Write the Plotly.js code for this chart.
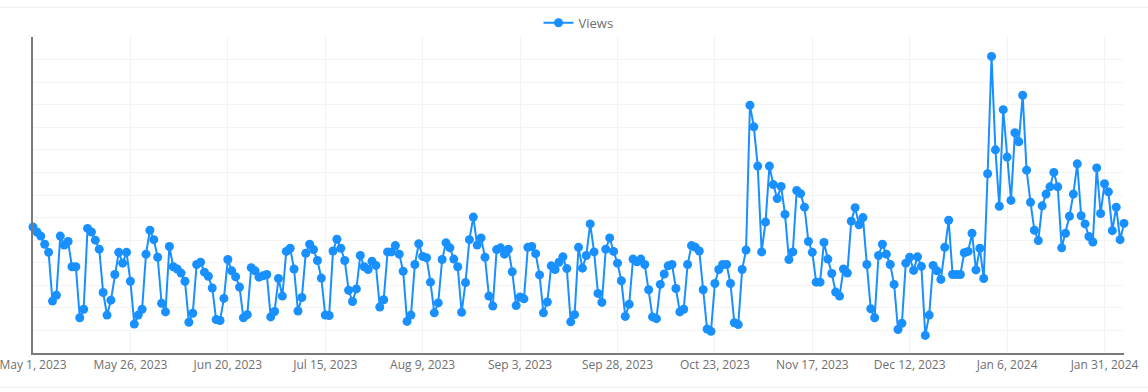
<!DOCTYPE html>
<html>
<head>
<meta charset="utf-8">
<script src="https://cdn.plot.ly/plotly-3.0.1.min.js"></script>
<style>
html,body{margin:0;padding:0;background:#fff;}
#chart{width:1148px;height:392px;}
</style>
</head>
<body>
<div id="chart"></div>
<script>
// Daily series, first day and values
const seriesName = "Views";
const startDate = "2023-05-01";
const views = [
279,268,259,241,223,115,128,259,239,247,191,191,78,97,276,268,250,230,134,84,
117,174,223,199,223,159,64,84,97,219,272,251,212,110,91,236,191,186,177,159,
68,88,196,201,179,170,144,74,72,121,207,182,169,146,78,85,189,182,168,171,
174,80,92,165,126,225,232,186,93,123,221,241,229,205,166,84,83,226,252,232,
205,139,114,142,216,191,185,203,194,102,118,224,224,238,219,181,70,84,196,242,
214,211,157,89,111,207,244,233,208,191,90,156,251,301,239,255,212,126,104,229,
233,219,230,180,105,124,120,234,236,220,173,89,113,193,185,201,213,187,69,85,
234,188,216,286,224,132,112,230,255,225,199,160,81,108,208,202,208,196,140,80,
76,152,175,193,196,143,91,97,196,238,234,226,140,53,48,154,185,196,196,154,
67,63,185,228,549,501,414,224,290,414,373,342,369,307,207,224,360,353,323,247,
223,157,157,245,208,176,135,126,186,177,292,322,284,300,196,98,78,216,241,219,
196,152,52,66,199,212,183,213,192,39,84,194,182,163,234,294,174,174,174,222,
225,265,184,232,165,397,657,450,325,539,434,338,488,468,571,405,334,272,249,326,
352,368,400,368,233,265,303,352,419,304,286,258,246,410,309,375,357,271,323,251,
287
];
// Axis settings
const yMax = 700;
const yStep = 50;
const tickStepDays = 25;

function isoDay(base, n){
  const d = new Date(base + "T00:00:00Z");
  d.setUTCDate(d.getUTCDate() + n);
  return d.toISOString().slice(0,10);
}
const dates = views.map((_, i) => isoDay(startDate, i));

const blue = "#1890ff";
const trace = {
  type: "scatter",
  mode: "lines+markers",
  name: seriesName,
  x: dates,
  y: views,
  line: {color: blue, width: 2},
  marker: {color: blue, size: 9},
  cliponaxis: false,
  hoverinfo: "x+y"
};

const fontFam = "'Open Sans', 'DejaVu Sans', sans-serif";
const layout = {
  width: 1148, height: 392,
  margin: {l: 33, r: 24, t: 37, b: 39, pad: 0, autoexpand: false},
  paper_bgcolor: "#ffffff",
  plot_bgcolor: "#ffffff",
  font: {family: fontFam, color: "#6f6f6f", size: 12},
  showlegend: true,
  legend: {
    orientation: "h", x: 0.5, xanchor: "center", y: 1.045, yanchor: "middle",
    font: {family: fontFam, size: 13, color: "#6f6f6f"},
    bgcolor: "rgba(0,0,0,0)"
  },
  xaxis: {
    type: "date",
    range: [dates[0], dates[dates.length - 1]],
    tick0: startDate,
    dtick: tickStepDays * 86400000,
    tickformat: "%b %-d, %Y",
    ticklabeloverflow: "allow",
    automargin: false,
    showgrid: true, gridcolor: "#f2f2f2", gridwidth: 1,
    showline: true, linecolor: "#7a7a7a", linewidth: 2,
    ticks: "", ticklen: 0,
    tickfont: {family: fontFam, size: 12, color: "#6f6f6f"},
    zeroline: false, fixedrange: true
  },
  yaxis: {
    range: [0, yMax],
    dtick: yStep,
    showticklabels: false,
    automargin: false,
    showgrid: true, gridcolor: "#f4f4f4", gridwidth: 1,
    showline: true, linecolor: "#7a7a7a", linewidth: 2,
    ticks: "", zeroline: false, fixedrange: true
  },
  shapes: [
    {type: "line", xref: "paper", yref: "paper", x0: -0.031, x1: 1.023, y0: 1.094, y1: 1.094,
     line: {color: "#eeeeee", width: 1}},
    {type: "line", xref: "paper", yref: "paper", x0: -0.031, x1: 1.023, y0: -0.109, y1: -0.109,
     line: {color: "#eeeeee", width: 1}}
  ],
  hovermode: false
};

Plotly.newPlot("chart", [trace], layout, {displayModeBar: false, staticPlot: true});
</script>
</body>
</html>
